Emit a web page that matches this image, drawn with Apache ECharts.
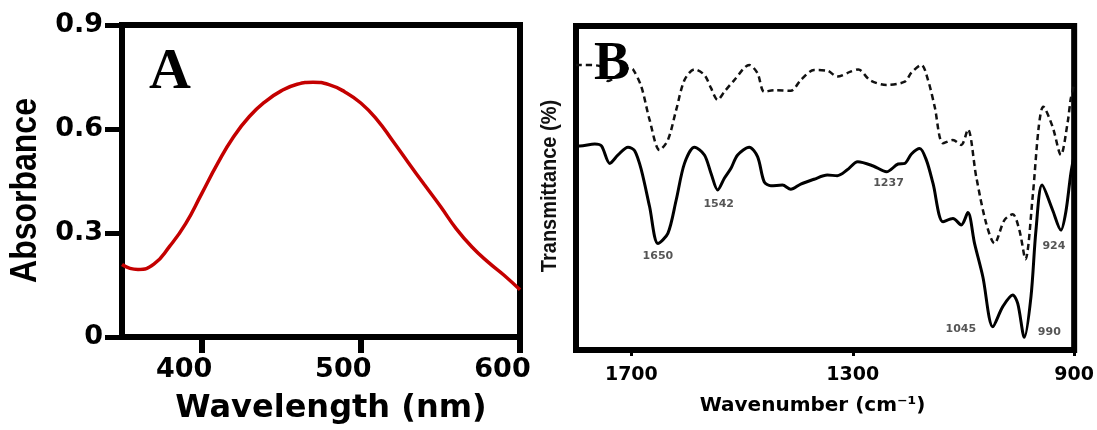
<!DOCTYPE html>
<html><head><meta charset="utf-8">
<script src="https://cdn.jsdelivr.net/npm/echarts@6/dist/echarts.min.js"></script>
<style>html,body{margin:0;padding:0;background:#fff}#c{width:1097px;height:430px}</style>
</head><body><div id="c"></div>
<script>
// Panel A: UV-Vis absorbance
const wavelength = [350, 355, 360, 370, 380, 390, 400, 410, 420, 430, 440, 450, 460, 470, 480, 490, 500, 510, 520, 530, 540, 550, 560, 570, 580, 590, 600];
const absorbance = [0.209, 0.198, 0.195, 0.210, 0.262, 0.327, 0.413, 0.500, 0.577, 0.636, 0.679, 0.710, 0.729, 0.735, 0.728, 0.707, 0.675, 0.628, 0.566, 0.502, 0.439, 0.377, 0.312, 0.259, 0.216, 0.178, 0.136];
const wlTicks = [400, 500, 600];
const absTicks = [0, 0.3, 0.6, 0.9];
const absTickLabels = ['0', '0.3', '0.6', '0.9'];

// Panel B: FTIR (transmittance, arbitrary units)
const wnSolid = [1800, 1793, 1766, 1754, 1739, 1724, 1706, 1694, 1682, 1667, 1652, 1634, 1619, 1604, 1586, 1568, 1556, 1544, 1532, 1520, 1508, 1487, 1472, 1460, 1448, 1427, 1412, 1394, 1370, 1346, 1328, 1310, 1291, 1263, 1239, 1218, 1206, 1194, 1179, 1167, 1155, 1137, 1119, 1104, 1092, 1080, 1065, 1047, 1029, 1011, 1002, 990, 978, 969, 958, 939, 924, 915, 906, 900];
const trSolid = [63.0, 63.0, 63.6, 63.0, 57.6, 60.2, 62.6, 61.5, 55.6, 44.2, 32.9, 36.0, 46.3, 57.6, 62.6, 60.2, 54.5, 49.4, 53.0, 56.1, 60.2, 62.6, 59.7, 51.9, 50.7, 50.9, 49.6, 51.2, 52.7, 54.0, 53.8, 55.6, 58.1, 56.8, 55.0, 57.4, 57.6, 60.5, 62.2, 58.6, 51.4, 39.6, 40.6, 38.6, 42.4, 32.9, 22.6, 7.2, 13.4, 17.0, 14.4, 3.9, 16.5, 37.0, 50.9, 43.2, 37.0, 42.7, 54.5, 60.0];
const wnDashed = [1800, 1793, 1758, 1742, 1722, 1704, 1697, 1682, 1667, 1649, 1634, 1619, 1604, 1586, 1568, 1556, 1544, 1532, 1514, 1487, 1472, 1460, 1442, 1412, 1394, 1370, 1346, 1328, 1304, 1290, 1269, 1239, 1206, 1194, 1176, 1164, 1152, 1137, 1119, 1104, 1092, 1077, 1059, 1044, 1026, 1011, 999, 988, 975, 964, 956, 939, 924, 912, 906, 900];
const trDashed = [88.0, 88.0, 87.7, 83.0, 85.2, 87.0, 86.6, 81.3, 71.0, 61.7, 64.8, 74.1, 83.3, 86.6, 84.9, 80.8, 77.2, 79.7, 83.3, 88.0, 85.4, 79.7, 80.2, 80.0, 83.3, 86.4, 86.2, 84.4, 85.9, 86.6, 83.3, 81.8, 82.8, 85.6, 88.0, 83.3, 75.1, 63.8, 64.8, 63.3, 68.1, 53.5, 39.1, 32.9, 40.1, 41.9, 37.0, 28.0, 47.3, 68.9, 75.1, 68.9, 60.2, 70.0, 77.7, 82.0];
const wnTicks = [1700, 1300, 900];
const wnTickLabels = ['1700', '1300', '900'];
const peakLabels = ['1650', '1542', '1237', '1045', '990', '924'];
const peakWn = [1652, 1544, 1239, 1047, 990, 924];
const peakTr = [32.9, 49.4, 55.0, 7.2, 3.9, 37.0];
const peakLabelOffsets = [[0, 13], [1, 14], [2, 11], [-32, 2], [25, -5], [-7, 16]];

const zip = (a, b) => a.map((v, i) => [v, b[i]]);
const boldDV = { fontFamily: 'DejaVu Sans', fontWeight: 'bold', color: '#000' };

const chart = echarts.init(document.getElementById('c'), null, { renderer: 'canvas' });
chart.setOption({
  animation: false,
  backgroundColor: '#fff',
  grid: [
    { left: 122, top: 25, width: 398, height: 317, show: true, borderColor: '#000', borderWidth: 6, backgroundColor: 'transparent' },
    { left: 576, top: 26, width: 499, height: 324, show: true, borderColor: '#000', borderWidth: 6, backgroundColor: 'transparent' }
  ],
  xAxis: [
    {
      gridIndex: 0, type: 'value', min: 350, max: 600,
      axisLine: { show: false },
      axisTick: { show: true, customValues: wlTicks, length: 16, lineStyle: { color: '#000', width: 6 } },
      axisLabel: { customValues: wlTicks, margin: 19, fontSize: 27, ...boldDV, padding: [0, 35, 0, 0] },
      splitLine: { show: false },
      name: 'Wavelength (nm)', nameLocation: 'middle', nameGap: 56,
      nameTextStyle: { fontSize: 32, ...boldDV, padding: [0, 0, 0, 20] }
    },
    {
      gridIndex: 1, type: 'value', min: 900, max: 1800, inverse: true,
      axisLine: { show: false },
      axisTick: { show: true, customValues: wnTicks, length: 6, lineStyle: { color: '#000', width: 3 } },
      axisLabel: {
        customValues: wnTicks, margin: 16, fontSize: 19, ...boldDV,
        formatter: v => wnTickLabels[wnTicks.indexOf(v)]
      },
      splitLine: { show: false },
      name: 'Wavenumber (cm\u207B\u00B9)', nameLocation: 'middle', nameGap: 46,
      nameTextStyle: { fontSize: 20, ...boldDV, padding: [0, 25, 0, 0] }
    }
  ],
  yAxis: [
    {
      gridIndex: 0, type: 'value', min: 0, max: 0.9,
      axisLine: { show: false },
      axisTick: { show: true, customValues: absTicks, length: 17, lineStyle: { color: '#000', width: 5 } },
      axisLabel: {
        customValues: absTicks, margin: 19, fontSize: 27, ...boldDV,
        formatter: v => absTickLabels[absTicks.findIndex(t => Math.abs(t - v) < 1e-9)]
      },
      splitLine: { show: false }
    },
    {
      gridIndex: 1, type: 'value', min: 0, max: 100,
      axisLine: { show: false }, axisTick: { show: false }, axisLabel: { show: false },
      splitLine: { show: false }
    }
  ],
  series: [
    {
      type: 'line', xAxisIndex: 0, yAxisIndex: 0, data: zip(wavelength, absorbance),
      smooth: 0.5, showSymbol: false, lineStyle: { color: '#c40000', width: 3.5 }, z: 3
    },
    {
      type: 'line', xAxisIndex: 1, yAxisIndex: 1, data: zip(wnDashed, trDashed),
      smooth: 0.3, showSymbol: false, lineStyle: { color: '#111', width: 2.5, type: [6, 4] }, z: 3
    },
    {
      type: 'line', xAxisIndex: 1, yAxisIndex: 1, data: zip(wnSolid, trSolid),
      smooth: 0.3, showSymbol: false, lineStyle: { color: '#000', width: 3 }, z: 3
    },
    {
      type: 'scatter', xAxisIndex: 1, yAxisIndex: 1, symbolSize: 0, silent: true,
      data: peakWn.map((w, i) => ({ value: [w, peakTr[i]], label: { offset: peakLabelOffsets[i] } })),
      label: {
        show: true, position: 'inside', fontFamily: 'DejaVu Sans', fontWeight: 'bold', fontSize: 11, color: '#2a2a2a',
        formatter: p => peakLabels[p.dataIndex]
      }, z: 4
    }
  ],
  graphic: [
    { type: 'text', x: 149, y: 73.5, z: 100, style: { text: 'A', font: 'bold 58px "Liberation Serif", "Times New Roman", serif', fill: '#000', align: 'left', verticalAlign: 'middle' } },
    { type: 'text', x: 594, y: 65, z: 100, style: { text: 'B', font: 'bold 54px "Liberation Serif", "Times New Roman", serif', fill: '#000', align: 'left', verticalAlign: 'middle' } },
    { type: 'text', x: 26, y: 190.5, rotation: Math.PI / 2, scaleY: 1.15, z: 100, style: { text: 'Absorbance', font: 'bold 32px "Liberation Sans", Arial, sans-serif', fill: '#000', align: 'center', verticalAlign: 'middle' } },
    { type: 'text', x: 550, y: 186, rotation: Math.PI / 2, scaleY: 1.1, z: 100, style: { text: 'Transmittance (%)', font: 'bold 20px "Liberation Sans", Arial, sans-serif', fill: '#111', align: 'center', verticalAlign: 'middle' } }
  ]
});
</script>
</body></html>
